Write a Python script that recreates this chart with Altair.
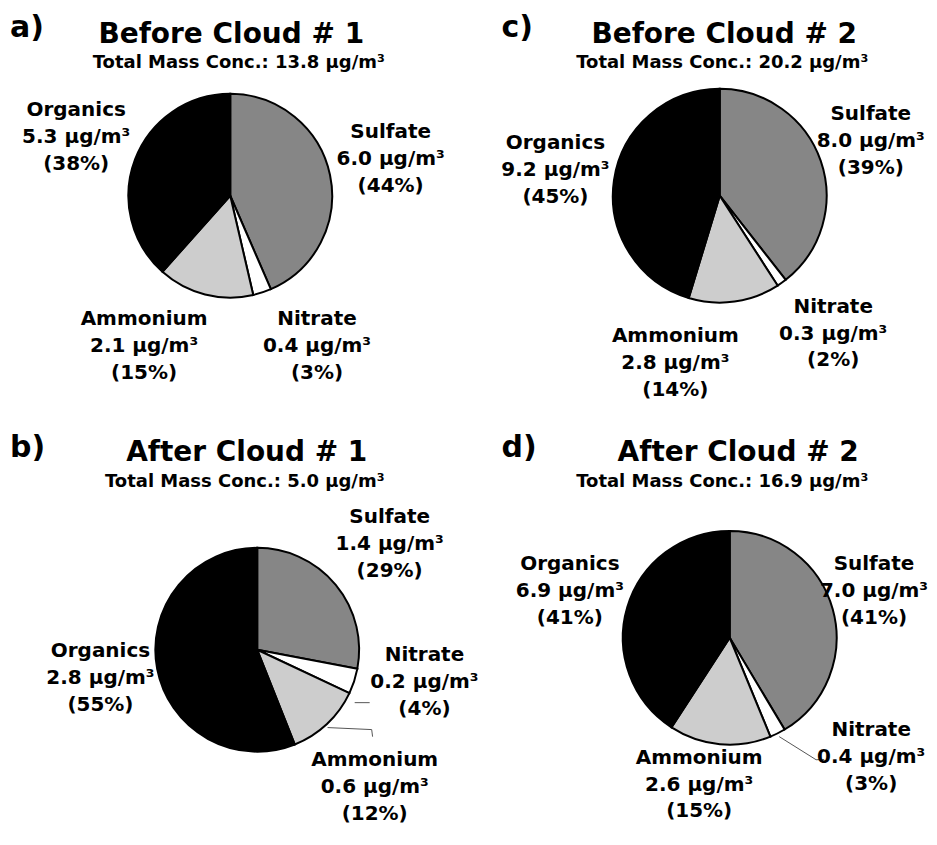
import math
import altair as alt
import pandas as pd

# ---------------- data ----------------
species = ["Sulfate", "Nitrate", "Ammonium", "Organics"]
species_colors = ["#868686", "#ffffff", "#cdcdcd", "#000000"]

panel_keys = ["a", "c", "b", "d"]
panel_letters = ["a)", "c)", "b)", "d)"]
panel_titles = ["Before Cloud # 1", "Before Cloud # 2", "After Cloud # 1", "After Cloud # 2"]
total_mass = [13.8, 20.2, 5.0, 16.9]

mass_a = [6.0, 0.4, 2.1, 5.3]
mass_b = [1.4, 0.2, 0.6, 2.8]
mass_c = [8.0, 0.3, 2.8, 9.2]
mass_d = [7.0, 0.4, 2.6, 6.9]

pct_a = [44, 3, 15, 38]
pct_b = [29, 4, 12, 55]
pct_c = [39, 2, 14, 45]
pct_d = [41, 3, 15, 41]

masses = {"a": mass_a, "b": mass_b, "c": mass_c, "d": mass_d}
pcts = {"a": pct_a, "b": pct_b, "c": pct_c, "d": pct_d}

# ---------------- layout (pixels / degrees) ----------------
FONT = "DejaVu Sans"
LINE_H = 27
LAYOUT = {
    "a": dict(w=462, h=404, cx=222.5, cy=187.5, r=102,
              letter=(2, 29), title=(223.5, 35), sub=(231, 60),
              nudge=[0, -11.3, 15, -1], lab_r=[164, 176, 176, 164], leaders=[]),
    "c": dict(w=459, h=404, cx=250.5, cy=187.5, r=107,
              letter=(32, 29), title=(255, 35), sub=(253, 60),
              nudge=[0, -3.4, 22.6, -0.6], lab_r=[160, 181, 176, 166], leaders=[]),
    "b": dict(w=462, h=416, cx=249.5, cy=238, r=102,
              letter=(2, 45), title=(239, 49), sub=(237, 75),
              nudge=[1.7, -6.2, 3.2, -0.4], lab_r=[168, 171, 183, 160],
              leaders=[[(118.5, 111), (115.2, 124.4)],
                       [(137.9, 105), (124.9, 139.7), (127, 144.6)]]),
    "d": dict(w=459, h=416, cx=260.5, cy=226, r=107,
              letter=(32, 45), title=(269, 49), sub=(253, 75),
              nudge=[-1.5, -22.6, 6.2, -1.1], lab_r=[151, 187, 153, 166],
              leaders=[[(153.4, 110.7), (144.7, 149.6), (142.2, 154.3)]]),
}


def build_panel(i):
    key = panel_keys[i]
    L = LAYOUT[key]
    m = masses[key]
    p = pcts[key]
    tot = sum(m)
    rows = []
    cum = 0.0
    for j, (s, v, pc) in enumerate(zip(species, m, p)):
        mid = (cum + v / 2) / tot * 360
        cum += v
        rows.append(dict(
            species=s, mass=v, idx=j,
            label=f"{s}\n{v:.1f} µg/m³\n({pc}%)",
            lab_theta=math.radians(mid + L["nudge"][j]),
            lab_r=L["lab_r"][j],
        ))
    df = pd.DataFrame(rows)

    arc = alt.Chart(df).mark_arc(radius=L["r"], stroke="black", strokeWidth=2).encode(
        theta=alt.Theta("mass:Q", stack=True),
        order=alt.Order("idx:Q", sort="ascending"),
        color=alt.Color("species:N", scale=alt.Scale(domain=species, range=species_colors), legend=None),
        x=alt.value(L["cx"]),
        y=alt.value(L["cy"]),
    )

    labels = alt.Chart(df).mark_text(
        font=FONT, fontWeight="bold", fontSize=20, lineBreak="\n", lineHeight=LINE_H,
        align="center", baseline="middle", color="black", dy=-LINE_H - 3,
    ).encode(
        theta=alt.Theta("lab_theta:Q", scale=None, stack=None),
        radius=alt.Radius("lab_r:Q", scale=None),
        x=alt.value(L["cx"]),
        y=alt.value(L["cy"]),
        text=alt.Text("label:N"),
    )

    head = pd.DataFrame([{
        "letter": panel_letters[i],
        "title": panel_titles[i],
        "sub": f"Total Mass Conc.: {total_mass[i]:.1f} µg/m³",
    }])
    t_letter = alt.Chart(head).mark_text(
        font=FONT, fontWeight="bold", fontSize=30, align="left", baseline="alphabetic", color="black"
    ).encode(text="letter:N", x=alt.value(L["letter"][0]), y=alt.value(L["letter"][1]))
    t_title = alt.Chart(head).mark_text(
        font=FONT, fontWeight="bold", fontSize=28, align="center", baseline="alphabetic", color="black"
    ).encode(text="title:N", x=alt.value(L["title"][0]), y=alt.value(L["title"][1]))
    t_sub = alt.Chart(head).mark_text(
        font=FONT, fontWeight="bold", fontSize=18, align="center", baseline="alphabetic", color="black"
    ).encode(text="sub:N", x=alt.value(L["sub"][0]), y=alt.value(L["sub"][1]))

    layers = [arc, labels, t_letter, t_title, t_sub]

    if L["leaders"]:
        lrows = []
        for k, pts in enumerate(L["leaders"]):
            for q, (ang, rr) in enumerate(pts):
                a = math.radians(ang)
                lrows.append(dict(leader=k, pt=q,
                                  x=L["cx"] + rr * math.sin(a),
                                  y=L["cy"] - rr * math.cos(a)))
        ldf = pd.DataFrame(lrows)
        leaders = alt.Chart(ldf).mark_line(color="#555555", strokeWidth=1).encode(
            x=alt.X("x:Q", scale=None, axis=None),
            y=alt.Y("y:Q", scale=None, axis=None),
            detail="leader:N",
            order="pt:Q",
        )
        layers.insert(1, leaders)

    return alt.layer(*layers).properties(width=L["w"], height=L["h"])


panels = [build_panel(i) for i in range(4)]

chart = alt.concat(*panels, columns=2, spacing=0, bounds="flush").properties(
    padding=0, background="white"
).configure_view(strokeWidth=0)

chart.save("out.html", embed_options={"renderer": "svg", "actions": False})
